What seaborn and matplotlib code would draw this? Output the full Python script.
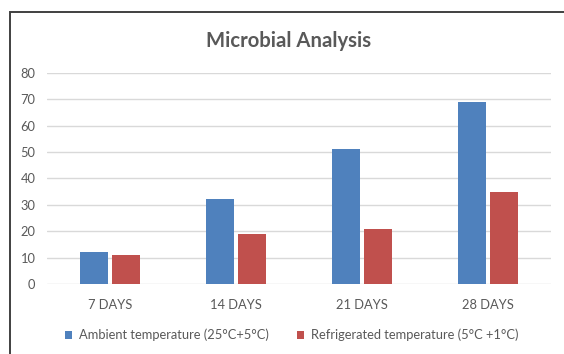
import matplotlib
matplotlib.use("Agg")
import matplotlib.pyplot as plt
from matplotlib.patches import Rectangle
import seaborn as sns
import pandas as pd

days = ["7 DAYS", "14 DAYS", "21 DAYS", "28 DAYS"]
series_names = ["Ambient temperature (25°C+5°C)", "Refrigerated temperature (5°C +1°C)"]
ambient = [12, 32, 51, 69]
refrigerated = [11, 19, 21, 35]
yticks = [0, 10, 20, 30, 40, 50, 60, 70, 80]
title = "Microbial Analysis"

colors = ["#4F81BD", "#C0504D"]
text_color = "#595959"

sns.set_theme(style="white")
plt.rcParams["font.family"] = ["Lato", "DejaVu Sans"]

df = pd.DataFrame({
    "day": days * 2,
    "series": [series_names[0]] * len(days) + [series_names[1]] * len(days),
    "value": ambient + refrigerated,
})

W, H = 564, 354
fig = plt.figure(figsize=(W / 100, H / 100), dpi=100)
fig.patch.set_facecolor("white")
ax = fig.add_axes([46.7 / W, 1 - 284 / H, (551 - 46.7) / W, (284 - 72.7) / H])

sns.barplot(data=df, x="day", y="value", hue="series", palette=colors,
            width=0.511, gap=0.13, saturation=1, ax=ax, linewidth=0,
            order=days, hue_order=series_names)

ax.set_ylim(0, 80)
ax.set_yticks(yticks)
ax.set_xlim(-0.5, len(days) - 0.5)
ax.set_xlabel("")
ax.set_ylabel("")
for s in ax.spines.values():
    s.set_visible(False)
ax.yaxis.grid(True, color="#D9D9D9", linewidth=1.0)
ax.set_axisbelow(True)
ax.tick_params(axis="both", length=0, labelsize=9.3, colors=text_color)
ax.tick_params(axis="x", pad=11)
ax.tick_params(axis="y", pad=8)

handles, labels = ax.get_legend_handles_labels()
ax.get_legend().remove()
fig.legend(handles, labels, loc="center", bbox_to_anchor=(0.517, 1 - 335 / H),
           ncol=2, frameon=False, fontsize=9.3, handlelength=0.55, handleheight=0.55,
           handletextpad=0.5, columnspacing=2.2, labelcolor=text_color)

fig.text(288.5 / W, 1 - 41 / H, title, ha="center", va="center",
         fontsize=14.6, fontweight="bold", color=text_color)

fig.add_artist(Rectangle((9.5 / W, -0.1), 1.2, (H - 12) / H + 0.1,
                         transform=fig.transFigure, fill=False,
                         edgecolor="#404040", linewidth=1.4))

fig.savefig("out.png", dpi=100, facecolor="white")
